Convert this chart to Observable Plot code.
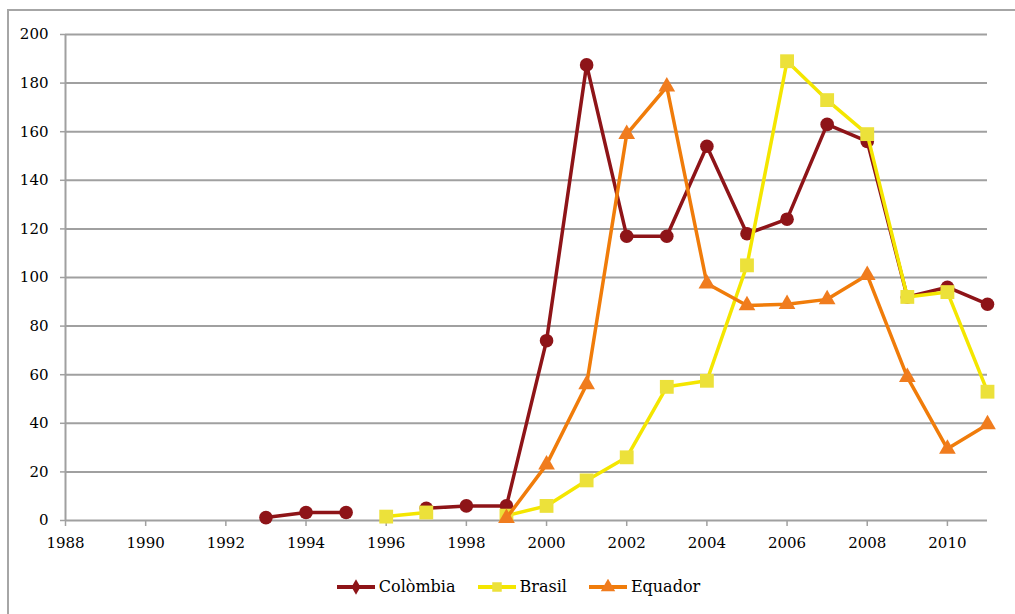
<!DOCTYPE html>
<html>
<head>
<meta charset="utf-8">
<script src="https://cdn.jsdelivr.net/npm/d3@7"></script>
<script src="https://cdn.jsdelivr.net/npm/@observablehq/plot@0.6"></script>
<style>
  html, body { margin: 0; padding: 0; background: #fff; overflow: hidden; }
  #wrap { position: relative; width: 1015px; height: 614px; font-family: "DejaVu Serif", "Liberation Serif", serif; }
  #frame { position: absolute; left: 7px; top: 9px; width: 1100px; height: 700px; border-left: 2px solid #a6a6a6; border-top: 2px solid #a6a6a6; box-sizing: border-box; }
  #chart { position: absolute; left: 0; top: 0; }
  #chart svg text { font-family: "DejaVu Serif", "Liberation Serif", serif; }
  #legend { position: absolute; left: 0; top: 577px; width: 1015px; display: flex; justify-content: center; gap: 20px; font-size: 16px; color: #000; padding-left: 20px; box-sizing: border-box; }
  .item { display: flex; align-items: center; gap: 2px; }
</style>
</head>
<body>
<div id="wrap">
  <div id="frame"></div>
  <div id="chart"></div>
  <div id="legend"></div>
</div>
<script>
const years = [1993,1994,1995,1996,1997,1998,1999,2000,2001,2002,2003,2004,2005,2006,2007,2008,2009,2010,2011];
const colombia = [1.2,3.3,3.3,NaN,5,6,6,74,187.5,117,117,154,118,124,163,156,92,96,89];
const brasil   = [NaN,NaN,NaN,1.6,3.3,NaN,2,6,16.5,26,55,57.5,105,189,173,159,92,94,53];
const equador  = [NaN,NaN,NaN,NaN,NaN,NaN,1,23,56,159,178.5,97.5,88.5,89,91,101,59,29.5,39.5];
const seriesNames = ["Colòmbia","Brasil","Equador"];
const lineColors = ["#8e1418","#f4e600","#f07c0a"];
const markColors = ["#8e1418","#ece13a","#f07c1e"];
const symbols = ["circle","square","triangle"];
const xTicks = [1988,1990,1992,1994,1996,1998,2000,2002,2004,2006,2008,2010];
const yTicks = [0,20,40,60,80,100,120,140,160,180,200];

const valuesBySeries = [colombia, brasil, equador];
const data = [];
seriesNames.forEach((s, i) => {
  years.forEach((y, j) => data.push({series: s, year: y, value: valuesBySeries[i][j]}));
});

const marks = [
  Plot.ruleY(yTicks, {stroke: "#a0a0a0", strokeWidth: 2}),
  Plot.ruleX([1988], {y1: 0, y2: 200, stroke: "#a0a0a0", strokeWidth: 2}),
  Plot.axisY(yTicks, {tickSize: 5, tickPadding: 12, stroke: "#a0a0a0", strokeWidth: 1.5, fill: "#000", fontSize: 15, label: null}),
  Plot.axisX(xTicks, {tickSize: 6, tickPadding: 11, stroke: "#a0a0a0", strokeWidth: 1.5, fill: "#000", fontSize: 15, label: null, tickFormat: d => String(d)})
];
seriesNames.forEach((s, i) => {
  const d = data.filter(r => r.series === s);
  marks.push(Plot.line(d, {x: "year", y: "value", stroke: lineColors[i], strokeWidth: 3.5, curve: "linear"}));
  marks.push(Plot.dot(d.filter(r => !isNaN(r.value)), {x: "year", y: "value", symbol: symbols[i], fill: markColors[i], stroke: "none", r: i === 0 ? 6.8 : (i === 1 ? 7.8 : 6.2)}));
});

const plot = Plot.plot({
  width: 1015,
  height: 560,
  marginTop: 34,
  marginLeft: 65,
  marginRight: 28,
  marginBottom: 40,
  style: {background: "transparent", fontFamily: "'DejaVu Serif', 'Liberation Serif', serif", fontSize: "15px"},
  x: {domain: [1988, 2011], axis: null},
  y: {domain: [0, 200], axis: null},
  symbol: {domain: symbols, range: symbols},
  marks
});
document.getElementById("chart").appendChild(plot);

// Legend
const legend = document.getElementById("legend");
seriesNames.forEach((s, i) => {
  const item = document.createElement("div");
  item.className = "item";
  const sw = d3.create("svg").attr("width", 42).attr("height", 16);
  sw.append("line").attr("x1", 2).attr("x2", 40).attr("y1", 8).attr("y2", 8).attr("stroke", lineColors[i]).attr("stroke-width", 4);
  const sym = [d3.symbolDiamond, d3.symbolSquare, d3.symbolTriangle][i];
  sw.append("path").attr("d", d3.symbol(sym, i === 0 ? 70 : 90)()).attr("transform", "translate(21,8)").attr("fill", markColors[i]);
  item.appendChild(sw.node());
  const t = document.createElement("span");
  t.textContent = s;
  item.appendChild(t);
  legend.appendChild(item);
});
</script>
</body>
</html>
